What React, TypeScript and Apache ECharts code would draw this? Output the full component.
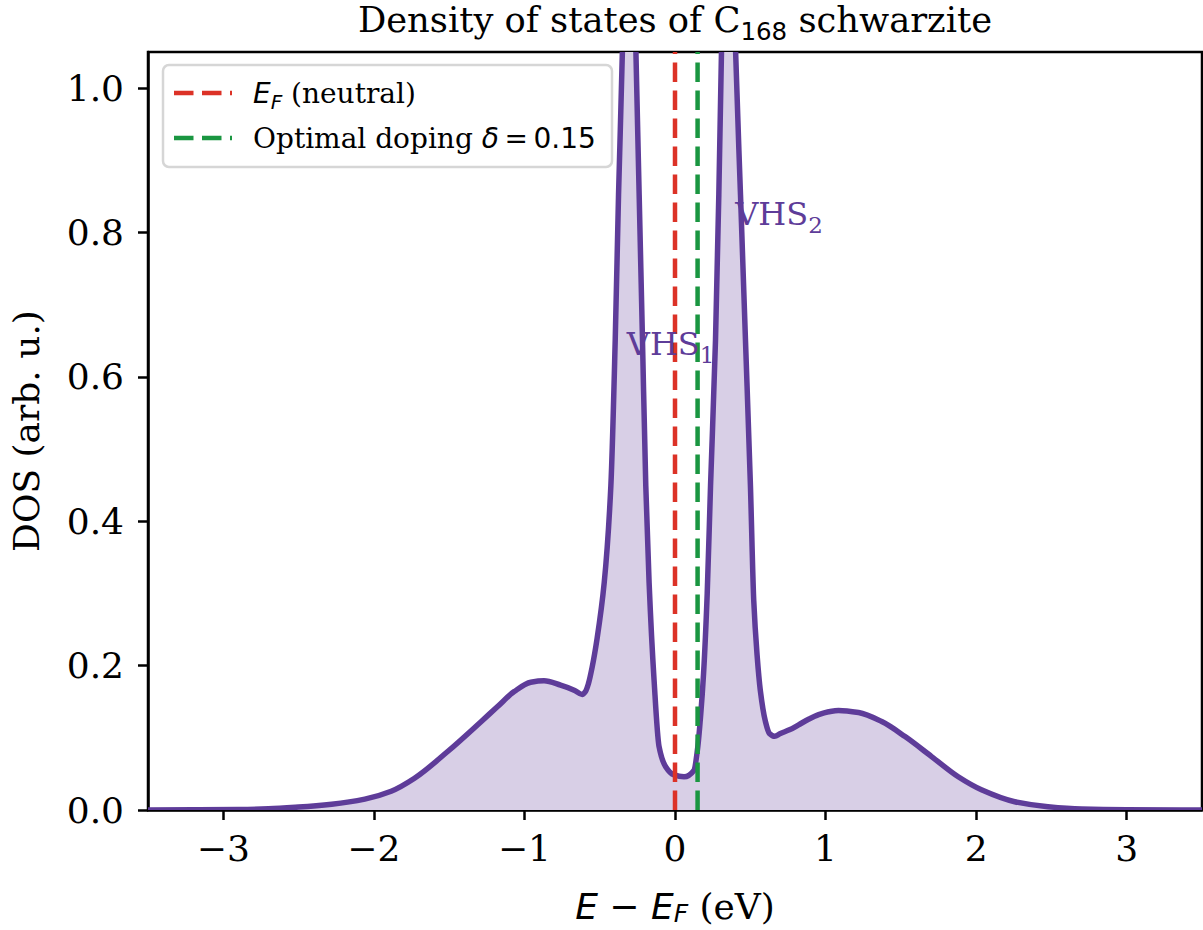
import React, { useEffect, useRef } from 'react';
import * as echarts from 'echarts';

// Energy grid (eV, relative to E_F) and density of states (arb. u.)
const ENERGY = [
  -3.5, -3.2, -2.9, -2.7, -2.5, -2.28, -2.06, -1.885, -1.73, -1.51, -1.29, -1.18, -1.068, -0.958,
  -0.87, -0.76, -0.67, -0.616, -0.595, -0.575, -0.55, -0.517, -0.47, -0.426, -0.397, -0.375, -0.349,
  -0.33, -0.305, -0.28, -0.26, -0.238, -0.216, -0.194, -0.172, -0.139, -0.106, -0.062, -0.01, 0.06,
  0.126, 0.15, 0.17, 0.19, 0.214, 0.236, 0.269, 0.291, 0.309, 0.33, 0.355, 0.38, 0.402, 0.435,
  0.468, 0.501, 0.523, 0.545, 0.567, 0.6, 0.627, 0.662, 0.7, 0.76, 0.821, 0.89, 0.954, 1.02, 1.086,
  1.219, 1.373, 1.528, 1.704, 1.881, 2.035, 2.256, 2.477, 2.7, 3.0, 3.5,
];
const DOS = [
  0, 0.0003, 0.0008, 0.0016, 0.004, 0.008, 0.015, 0.026, 0.044, 0.081, 0.122, 0.143, 0.164, 0.177,
  0.179, 0.173, 0.166, 0.16, 0.164, 0.175, 0.198, 0.238, 0.315, 0.449, 0.651, 0.852, 1.054,
  1.25, 1.45, 1.25, 1.054, 0.852, 0.651, 0.449, 0.315, 0.18, 0.088, 0.06, 0.049, 0.046,
  0.055, 0.085, 0.13, 0.19, 0.3, 0.449, 0.651, 0.852, 1.054, 1.25, 1.45, 1.25, 1.054, 0.852,
  0.651, 0.449, 0.29, 0.215, 0.165, 0.123, 0.106, 0.102, 0.106, 0.111, 0.118, 0.126, 0.132, 0.136, 0.138,
  0.135, 0.1225, 0.1017, 0.074, 0.046, 0.028, 0.0115, 0.0046, 0.0014, 0.0004, 0,
];

const X_MIN = -3.5;
const X_MAX = 3.5;
const Y_MIN = 0;
const Y_MAX = 1.05;
const X_TICKS = [-3, -2, -1, 0, 1, 2, 3];
const Y_TICKS = [0, 0.2, 0.4, 0.6, 0.8, 1.0];

const E_FERMI = 0;
const DOPING = 0.15;

const VHS_LABELS = [
  { sub: '1', x: -0.32, y: 0.645 },
  { sub: '2', x: 0.4, y: 0.825 },
];

const SERIF = 'DejaVu Serif';
const SANS = 'DejaVu Sans';
const PURPLE = '#5e3c99';
const FILL = '#d8cfe6';
const RED = '#dc3227';
const GREEN = '#1a9641';
const DASH = [19.5, 8.5];

// Monotone cubic (PCHIP) path through pixel points, x strictly increasing
function monotonePath(pts: number[][]): string {
  const n = pts.length;
  const h: number[] = [];
  const m: number[] = [];
  for (let k = 0; k < n - 1; k++) {
    h[k] = pts[k + 1][0] - pts[k][0];
    m[k] = (pts[k + 1][1] - pts[k][1]) / h[k];
  }
  const t: number[] = new Array(n).fill(0);
  t[0] = m[0];
  t[n - 1] = m[n - 2];
  for (let k = 1; k < n - 1; k++) {
    if (m[k - 1] * m[k] <= 0) {
      t[k] = 0;
    } else {
      const w1 = 2 * h[k] + h[k - 1];
      const w2 = h[k] + 2 * h[k - 1];
      t[k] = (w1 + w2) / (w1 / m[k - 1] + w2 / m[k]);
    }
  }
  let d = `M ${pts[0][0]} ${pts[0][1]}`;
  for (let k = 0; k < n - 1; k++) {
    const x0 = pts[k][0];
    const y0 = pts[k][1];
    const x1 = pts[k + 1][0];
    const y1 = pts[k + 1][1];
    const c = h[k] / 3;
    d += ` C ${x0 + c} ${y0 + t[k] * c} ${x1 - c} ${y1 - t[k + 1] * c} ${x1} ${y1}`;
  }
  return d;
}

export default function App() {
  const ref = useRef<HTMLDivElement>(null);

  useEffect(() => {
    if (!ref.current) return;
    const chart = echarts.init(ref.current, null, { renderer: 'svg' });

    const curve = ENERGY.map((e, i) => [e, DOS[i]]);
    const fmtX = (v: number) => (v < 0 ? '\u2212' + Math.abs(v) : String(v));

    const legendX = 163;
    const legendY = 65;
    const legendW = 449;
    const legendH = 102;
    const row1 = 93;
    const row2 = 138;

    const option: any = {
      animation: false,
      grid: {
        left: 148,
        top: 52,
        width: 1054,
        height: 758,
        show: true,
        borderColor: '#000',
        borderWidth: 2.5,
        backgroundColor: 'transparent',
        containLabel: false,
        outerBoundsMode: 'none',
      },
      xAxis: {
        type: 'value',
        min: X_MIN,
        max: X_MAX,
        axisLine: { show: true, onZero: false, lineStyle: { color: '#000', width: 2.5 } },
        axisTick: { show: true, customValues: X_TICKS, length: 10, lineStyle: { color: '#000', width: 2.5 } },
        axisLabel: {
          customValues: X_TICKS,
          formatter: (v: number) => fmtX(v),
          fontFamily: SERIF,
          fontSize: 36,
          color: '#000',
          margin: 20,
        },
        splitLine: { show: false },
        name: '{i|E}{m| \u2212 }{i|E}{s|F}{r| (eV)}',
        nameLocation: 'middle',
        nameGap: 76,
        nameTextStyle: {
          rich: {
            i: { fontFamily: SANS, fontStyle: 'italic', fontSize: 36, color: '#000', lineHeight: 40 },
            m: { fontFamily: SANS, fontSize: 36, color: '#000', lineHeight: 40 },
            s: { fontFamily: SANS, fontStyle: 'italic', fontSize: 25, color: '#000', lineHeight: 25, verticalAlign: 'bottom' },
            r: { fontFamily: SERIF, fontSize: 36, color: '#000', lineHeight: 40 },
          },
        },
      },
      yAxis: {
        type: 'value',
        min: Y_MIN,
        max: Y_MAX,
        axisLine: { show: true, onZero: false, lineStyle: { color: '#000', width: 2.5 } },
        axisTick: { show: true, customValues: Y_TICKS, length: 10, lineStyle: { color: '#000', width: 2.5 } },
        axisLabel: {
          customValues: Y_TICKS,
          formatter: (v: number) => v.toFixed(1),
          fontFamily: SERIF,
          fontSize: 36,
          color: '#000',
          margin: 24,
        },
        splitLine: { show: false },
        name: 'DOS (arb. u.)',
        nameLocation: 'middle',
        nameGap: 104,
        nameTextStyle: { fontFamily: SERIF, fontSize: 36, color: '#000' },
      },
      series: [
        {
          type: 'custom',
          name: 'DOS',
          data: curve,
          encode: { x: 0, y: 1 },
          silent: true,
          z: 2,
          renderItem: (params: any, api: any) => {
            if (params.dataIndex !== 0) return null;
            const pts = curve.map((p) => api.coord(p));
            const base = api.coord([X_MIN, Y_MIN])[1];
            const line = monotonePath(pts);
            const last = pts[pts.length - 1];
            const area = `${line} L ${last[0]} ${base} L ${pts[0][0]} ${base} Z`;
            const cs = params.coordSys;
            return {
              type: 'group',
              clipPath: { type: 'rect', shape: { x: cs.x, y: cs.y, width: cs.width, height: cs.height } },
              children: [
                { type: 'path', shape: { pathData: area }, style: { fill: FILL, stroke: null } },
                {
                  type: 'path',
                  shape: { pathData: line },
                  style: { fill: 'none', stroke: PURPLE, lineWidth: 5.5, lineJoin: 'round', lineCap: 'round' },
                },
              ],
            };
          },
        },
        {
          type: 'line',
          name: 'E_F (neutral)',
          data: [[E_FERMI, Y_MIN], [E_FERMI, Y_MAX]],
          symbol: 'none',
          lineStyle: { color: RED, width: 4.5, type: DASH },
          z: 5,
        },
        {
          type: 'line',
          name: 'Optimal doping',
          data: [[DOPING, Y_MIN], [DOPING, Y_MAX]],
          symbol: 'none',
          lineStyle: { color: GREEN, width: 4.5, type: DASH },
          z: 5,
        },
        {
          type: 'scatter',
          name: 'VHS labels',
          data: VHS_LABELS.map((l) => ({ value: [l.x, l.y], sub: l.sub })),
          symbolSize: 0,
          silent: true,
          z: 6,
          itemStyle: { opacity: 1, color: PURPLE },
          label: {
            show: true,
            position: 'right',
            distance: 0,
            opacity: 1,
            color: PURPLE,
            formatter: (p: any) => '{b|VHS}{s|' + p.data.sub + '}',
            rich: {
              b: { fontFamily: SERIF, fontSize: 32, color: PURPLE, lineHeight: 44 },
              s: { fontFamily: SERIF, fontSize: 23, color: PURPLE, lineHeight: 23, verticalAlign: 'bottom' },
            },
          },
        },
      ],
      graphic: [
        {
          type: 'text',
          x: 675,
          y: 19,
          style: {
            text: '{a|Density of states of C}{s|168}{a| schwarzite}',
            align: 'center',
            verticalAlign: 'middle',
            rich: {
              a: { fontFamily: SERIF, fontSize: 35.3, fill: '#000', lineHeight: 50 },
              s: { fontFamily: SANS, fontSize: 24.5, fill: '#000', lineHeight: 24, verticalAlign: 'bottom' },
            },
          },
          z: 10,
        },
        {
          type: 'group',
          z: 10,
          children: [
            {
              type: 'rect',
              shape: { x: legendX, y: legendY, width: legendW, height: legendH, r: 6 },
              style: { fill: 'rgba(255,255,255,0.85)', stroke: '#d6d6d6', lineWidth: 2.5 },
            },
            {
              type: 'line',
              shape: { x1: 174, y1: row1, x2: 232, y2: row1 },
              style: { stroke: RED, lineWidth: 4.5, lineDash: DASH },
            },
            {
              type: 'line',
              shape: { x1: 174, y1: row2, x2: 232, y2: row2 },
              style: { stroke: GREEN, lineWidth: 4.5, lineDash: DASH },
            },
            {
              type: 'text',
              x: 253,
              y: row1,
              style: {
                text: '{i|E}{s|F}{r| (neutral)}',
                verticalAlign: 'middle',
                rich: {
                  i: { fontFamily: SANS, fontStyle: 'italic', fontSize: 28, fill: '#000', lineHeight: 38 },
                  s: { fontFamily: SANS, fontStyle: 'italic', fontSize: 20, fill: '#000', lineHeight: 20, verticalAlign: 'bottom' },
                  r: { fontFamily: SERIF, fontSize: 28, fill: '#000', lineHeight: 38 },
                },
              },
            },
            {
              type: 'text',
              x: 253,
              y: row2,
              style: {
                text: '{r|Optimal doping }{i|\u03b4}{m|\u2009=\u20090.15}',
                verticalAlign: 'middle',
                rich: {
                  r: { fontFamily: SERIF, fontSize: 28, fill: '#000', lineHeight: 38 },
                  i: { fontFamily: SANS, fontStyle: 'italic', fontSize: 28, fill: '#000', lineHeight: 38 },
                  m: { fontFamily: SANS, fontSize: 28, fill: '#000', lineHeight: 38 },
                },
              },
            },
          ],
        },
      ],
    };

    chart.setOption(option);
    return () => chart.dispose();
  }, []);

  return (
    <div
      ref={ref}
      style={{ position: 'absolute', left: 0, top: 0, width: 1203, height: 930, background: '#fff' }}
    />
  );
}
